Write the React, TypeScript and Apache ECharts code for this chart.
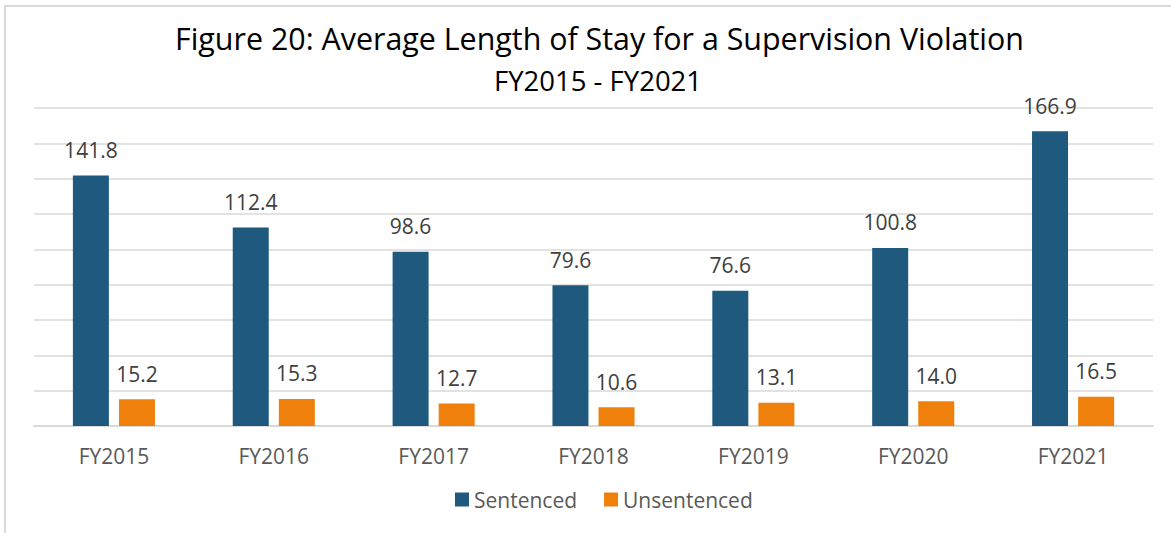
import React, { useEffect, useRef } from "react";
import * as echarts from "echarts";

const categories = ["FY2015", "FY2016", "FY2017", "FY2018", "FY2019", "FY2020", "FY2021"];
const sentenced = [141.8, 112.4, 98.6, 79.6, 76.6, 100.8, 166.9];
const unsentenced = [15.2, 15.3, 12.7, 10.6, 13.1, 14.0, 16.5];
const seriesNames = ["Sentenced", "Unsentenced"];

const FONT = "'Open Sans', 'Noto Sans', sans-serif";

export default function App() {
  const ref = useRef<HTMLDivElement>(null);
  useEffect(() => {
    document.body.style.margin = "0";
    const chart = echarts.init(ref.current!, null, { renderer: "svg" });
    const label = {
      show: true,
      position: "top",
      distance: 15,
      color: "#404040",
      fontSize: 21,
      fontFamily: FONT,
      formatter: (p: any) => Number(p.value).toFixed(1),
    };
    chart.setOption({
      animation: false,
      backgroundColor: "#ffffff",
      textStyle: { fontFamily: FONT },
      title: [
        {
          text: "Figure 20: Average Length of Stay for a Supervision Violation",
          left: 170,
          top: 18,
          textStyle: { fontSize: 30.4, fontWeight: "normal", color: "#000000", fontFamily: FONT },
        },
        {
          text: "FY2015 - FY2021",
          left: 489,
          top: 61,
          textStyle: { fontSize: 27.5, fontWeight: "normal", color: "#000000", fontFamily: FONT },
        },
      ],
      graphic: [
        {
          type: "rect",
          shape: { x: 5, y: 6, width: 1300, height: 700 },
          style: { fill: "none", stroke: "#d9d9d9", lineWidth: 2 },
          silent: true,
        },
      ],
      legend: {
        data: seriesNames,
        bottom: 18,
        left: 450,
        itemWidth: 14,
        itemHeight: 14,
        itemGap: 27,
        icon: "rect",
        textStyle: { fontSize: 21, color: "#595959", fontFamily: FONT },
      },
      grid: { left: 34, right: 18, top: 108, bottom: 107, containLabel: false },
      xAxis: {
        type: "category",
        data: categories,
        axisLine: { lineStyle: { color: "#d9d9d9", width: 2 } },
        axisTick: { show: false },
        axisLabel: { color: "#595959", fontSize: 21, margin: 19, fontFamily: FONT },
      },
      yAxis: {
        type: "value",
        min: 0,
        max: 180,
        interval: 20,
        axisLabel: { show: false },
        axisLine: { show: false },
        axisTick: { show: false },
        splitLine: { lineStyle: { color: "#d9d9d9", width: 1.5 } },
      },
      series: [
        {
          name: seriesNames[0],
          type: "bar",
          data: sentenced,
          barWidth: 36,
          barGap: "28%",
          itemStyle: { color: "#1f5a7e" },
          label,
        },
        {
          name: seriesNames[1],
          type: "bar",
          data: unsentenced,
          barWidth: 36,
          barGap: "28%",
          itemStyle: { color: "#f0800c" },
          label,
        },
      ],
    });
    return () => chart.dispose();
  }, []);
  return <div ref={ref} style={{ position: "absolute", left: 0, top: 0, width: 1171, height: 533 }} />;
}
